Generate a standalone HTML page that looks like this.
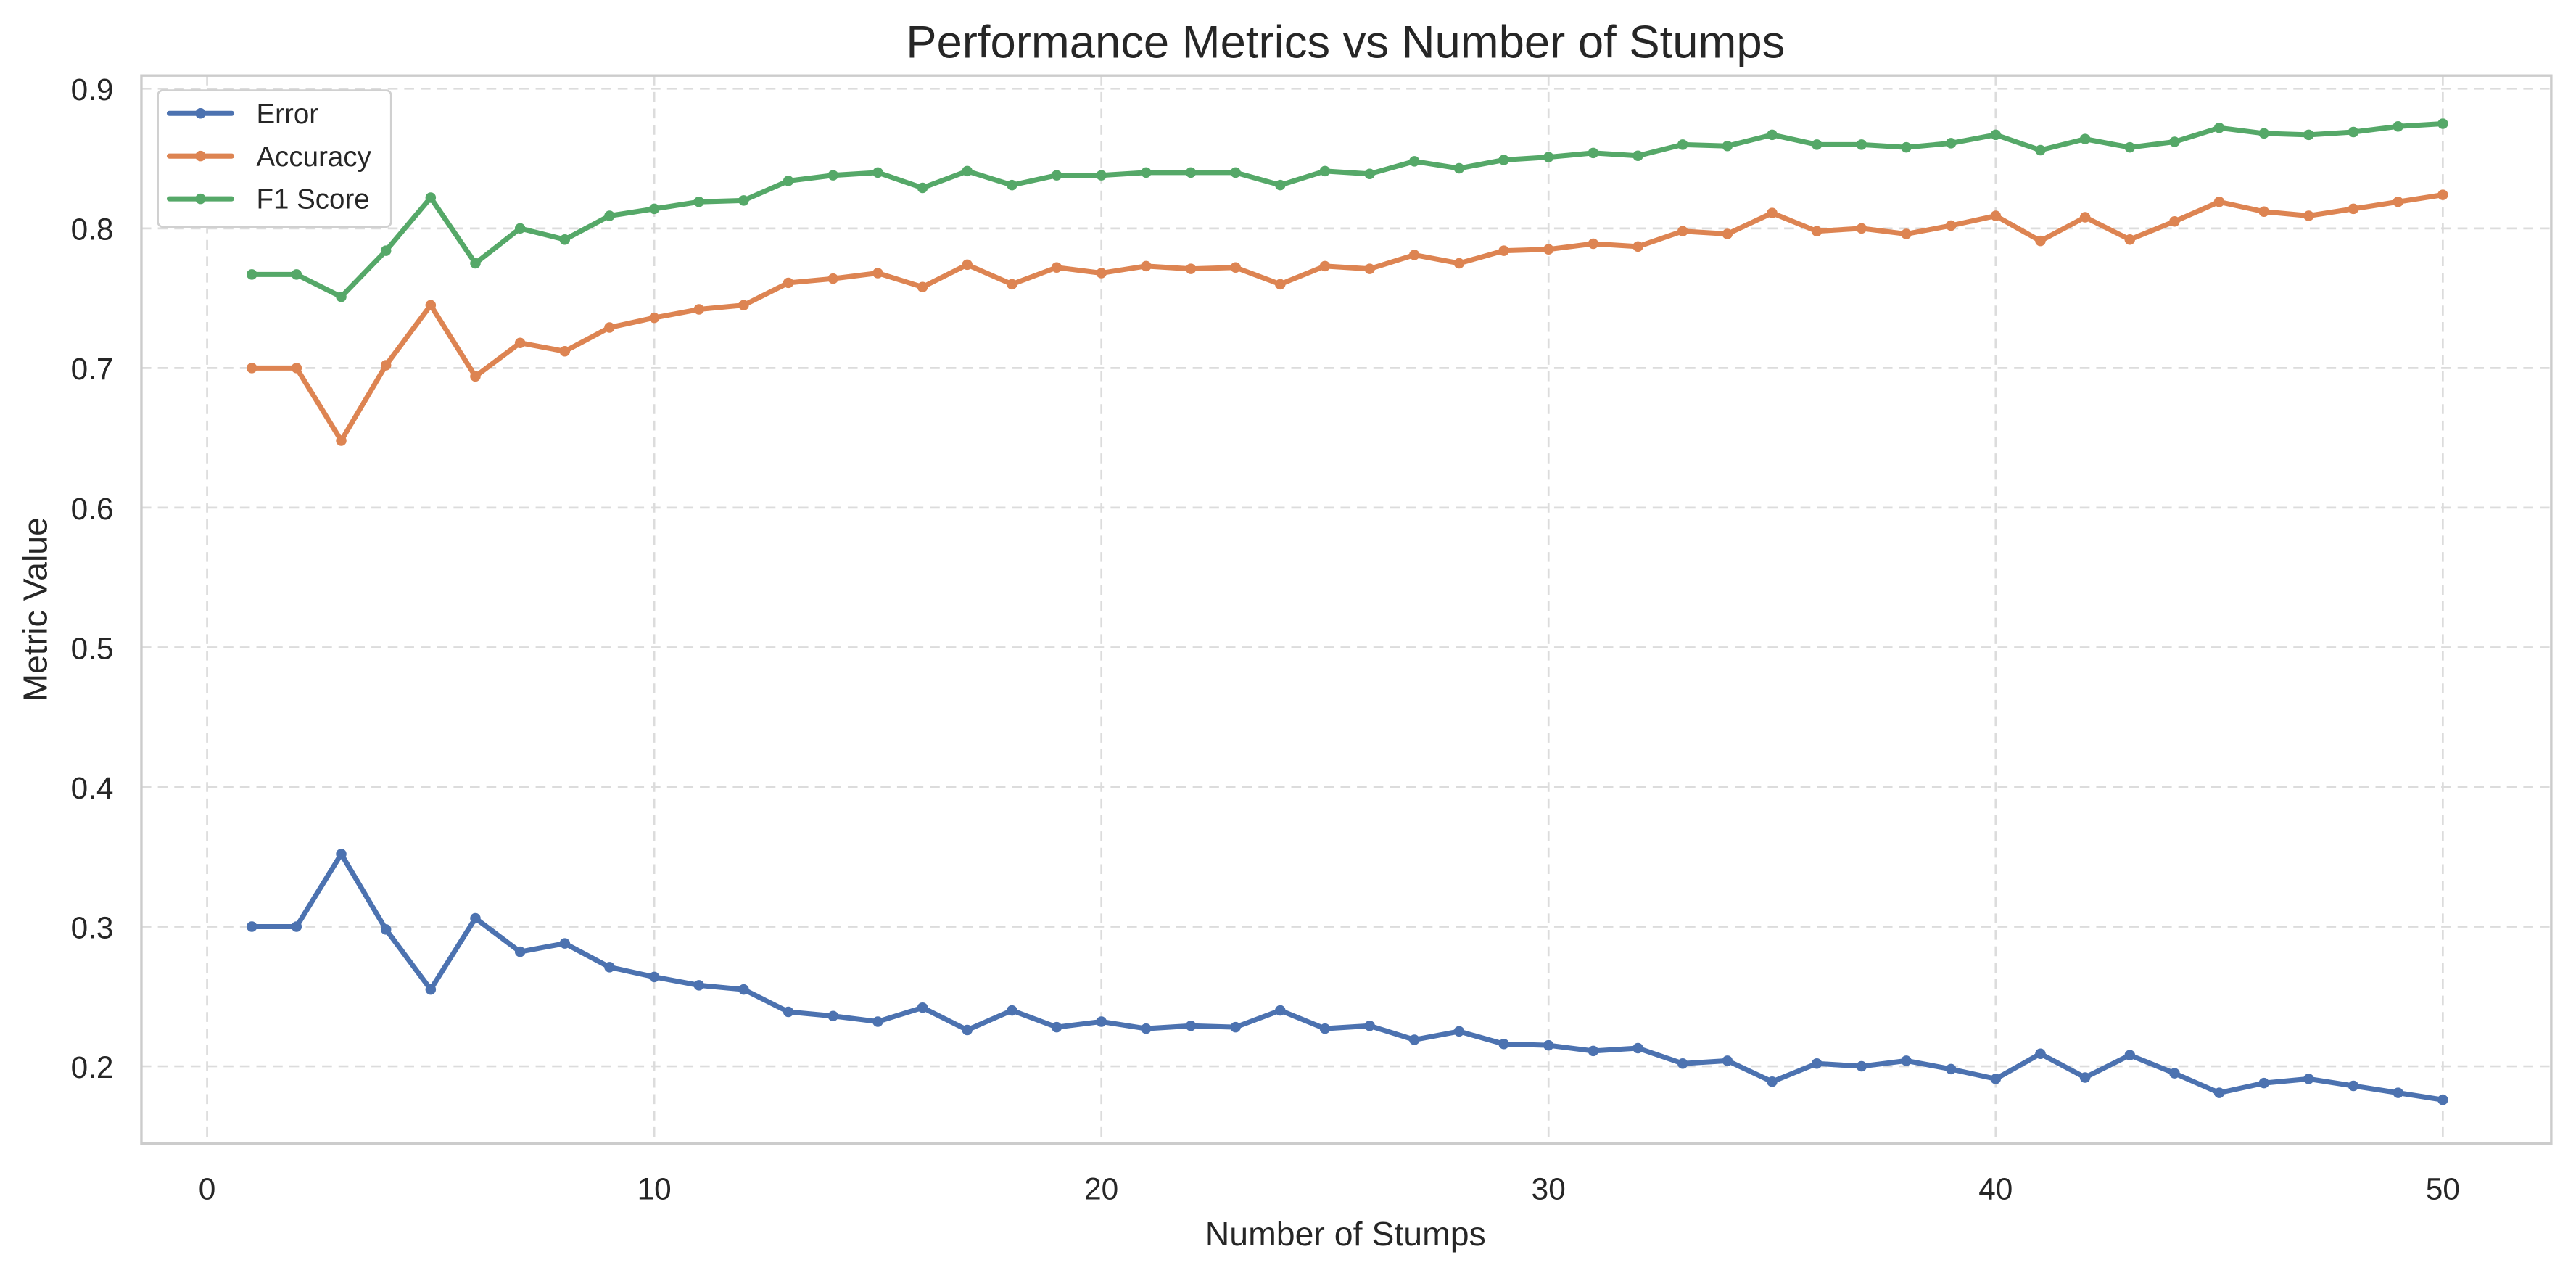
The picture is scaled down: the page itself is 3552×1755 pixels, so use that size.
<!DOCTYPE html>
<html><head><meta charset="utf-8"><style>
html,body{margin:0;padding:0;background:#fff;}
svg{display:block;font-family:"Liberation Sans",Arial,sans-serif;}
</style></head><body>
<svg id="chart" width="3552" height="1755" viewBox="0 0 1568 774.8" xmlns="http://www.w3.org/2000/svg">
<rect width="1568" height="774.8" fill="#fff"/>
<g id="grid"></g>
<g id="series"></g>
<rect x="86" y="46" width="1467" height="650" fill="none" stroke="#ccc" stroke-width="1.5"/>
<g id="ticks" fill="#262626" font-size="18.7"></g>
<text x="819" y="35" text-anchor="middle" font-size="28" fill="#262626">Performance Metrics vs Number of Stumps</text>
<text x="819" y="758" text-anchor="middle" font-size="20.5" fill="#262626">Number of Stumps</text>
<text transform="translate(28.5,371) rotate(-90)" text-anchor="middle" font-size="20.5" fill="#262626">Metric Value</text>
<g id="legend"></g>
</svg>
<script>
const stumps = Array.from({length:50},(_,i)=>i+1);
const accuracy = [0.700,0.700,0.648,0.702,0.745,0.694,0.718,0.712,0.729,0.736,0.742,0.745,0.761,0.764,0.768,0.758,0.774,0.760,0.772,0.768,0.773,0.771,0.772,0.760,0.773,0.771,0.781,0.775,0.784,0.785,0.789,0.787,0.798,0.796,0.811,0.798,0.800,0.796,0.802,0.809,0.791,0.808,0.792,0.805,0.819,0.812,0.809,0.814,0.819,0.824];
const errorVals = [0.300,0.300,0.352,0.298,0.255,0.306,0.282,0.288,0.271,0.264,0.258,0.255,0.239,0.236,0.232,0.242,0.226,0.240,0.228,0.232,0.227,0.229,0.228,0.240,0.227,0.229,0.219,0.225,0.216,0.215,0.211,0.213,0.202,0.204,0.189,0.202,0.200,0.204,0.198,0.191,0.209,0.192,0.208,0.195,0.181,0.188,0.191,0.186,0.181,0.176];
const f1 = [0.767,0.767,0.751,0.784,0.822,0.775,0.800,0.792,0.809,0.814,0.819,0.820,0.834,0.838,0.840,0.829,0.841,0.831,0.838,0.838,0.840,0.840,0.840,0.831,0.841,0.839,0.848,0.843,0.849,0.851,0.854,0.852,0.860,0.859,0.867,0.860,0.860,0.858,0.861,0.867,0.856,0.864,0.858,0.862,0.872,0.868,0.867,0.869,0.873,0.875];
const xTicks = [0,10,20,30,40,50];
const yTicks = [0.2,0.3,0.4,0.5,0.6,0.7,0.8,0.9];
const seriesNames = ["Error","Accuracy","F1 Score"];

const NS="http://www.w3.org/2000/svg";
const X = v => 126 + v*27.22;
const Y = v => 649 - (v-0.2)*850;
function mk(tag, parent, attrs){const e=document.createElementNS(NS,tag);for(const k in attrs)e.setAttribute(k,attrs[k]);parent.appendChild(e);return e;}
const grid=document.getElementById('grid'), ticks=document.getElementById('ticks'), ser=document.getElementById('series'), leg=document.getElementById('legend');
xTicks.forEach(t=>{
  const l=mk('line',grid,{x1:X(t),x2:X(t),y1:46,y2:696,stroke:'#dcdcdc','stroke-width':1.2,'stroke-dasharray':'6,4'});
  
  
  const tx=mk('text',ticks,{x:X(t),y:730,'text-anchor':'middle'});tx.textContent=t;
  
  
});
yTicks.forEach(t=>{
  const l=mk('line',grid,{x1:86,x2:1553,y1:Y(t),y2:Y(t),stroke:'#dcdcdc','stroke-width':1.2,'stroke-dasharray':'6,4'});
  
  
  const tx=mk('text',ticks,{x:69,y:Y(t)+7,'text-anchor':'end'});tx.textContent=t.toFixed(1);
  
  
});
const colors=['#4c72b0','#dd8452','#55a868'];
[errorVals,accuracy,f1].forEach((vals,si)=>{
  const g=mk('g',ser,{});
  
  
  const pts=vals.map((v,i)=>X(stumps[i])+','+Y(v)).join(' ');
  const pl=mk('polyline',g,{points:pts,fill:'none',stroke:colors[si],'stroke-width':3.1,'stroke-linejoin':'round'});
  
  
  vals.forEach((v,i)=>{
    const c=mk('circle',g,{cx:X(stumps[i]),cy:Y(v),r:3.2,fill:colors[si]});
    
    
  });
});
const box=mk('rect',leg,{x:96,y:55,width:142,height:83,rx:3,fill:'#fff',stroke:'#d0d0d0','stroke-width':1.2});


seriesNames.forEach((n,i)=>{
  const y=69+i*26;
  const g=mk('g',leg,{});
  
  
  mk('line',g,{x1:103,x2:141,y1:y,y2:y,stroke:colors[i],'stroke-width':3.1,'stroke-linecap':'round'});
  mk('circle',g,{cx:122,cy:y,r:3.2,fill:colors[i]});
  const t=mk('text',g,{x:156,y:y+6,'font-size':17,fill:'#262626'});t.textContent=n;
});
</script>
</body></html>
